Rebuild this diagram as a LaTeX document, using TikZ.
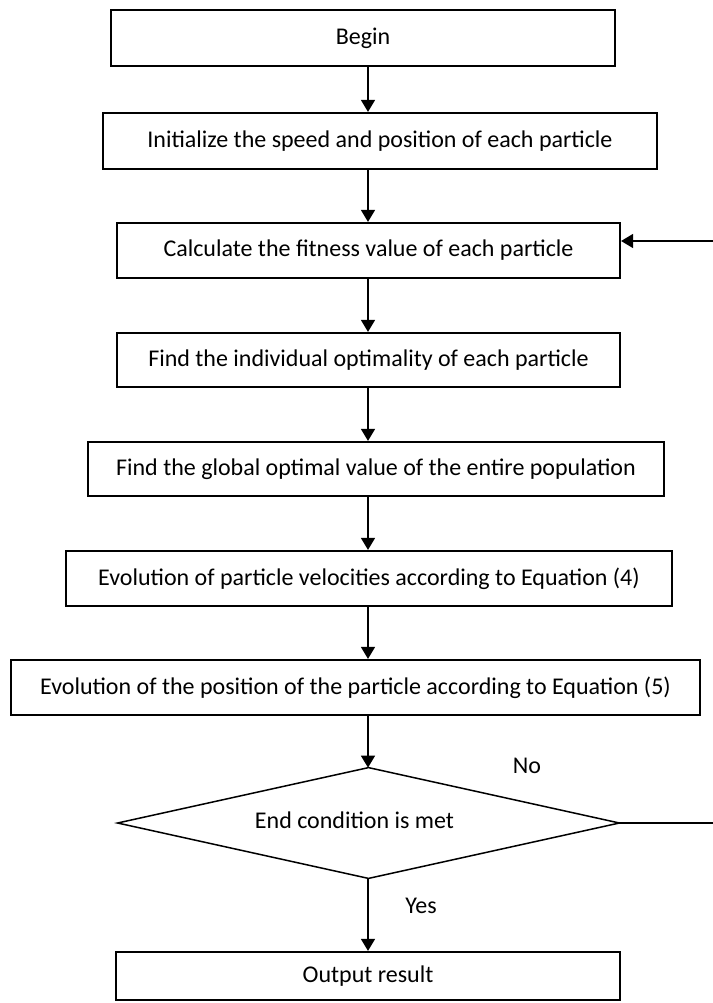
\documentclass[tikz,border=0pt]{standalone}
\usepackage{fontspec}
\setmainfont{Carlito}
\usepackage{tikz}
\usetikzlibrary{positioning,arrows.meta,shapes.geometric,calc}

\begin{document}
\begin{tikzpicture}[
    x=0.5pt, y=-0.5pt,
    box/.style={draw, line width=1.1pt, inner sep=0pt, minimum height=27.5pt,
                align=center, font=\fontsize{12}{14}\selectfont},
    cond/.style={inner sep=0pt, minimum width=250.5pt, minimum height=55pt,
                 font=\fontsize{12}{14}\selectfont},
    lbl/.style={font=\fontsize{12}{14}\selectfont},
    arr/.style={-{Triangle[length=6pt,width=7pt]}, line width=0.75pt},
  ]
  \useasboundingbox (0,0) rectangle (713,1003);
  \clip (0,0) rectangle (713,1003);
  % Main column of steps
  \node[box, minimum width=252pt, minimum height=28pt] (begin) at (363,38) {Begin};
  \node[box, minimum width=277pt, minimum height=28pt] (init) at (380,141)
        {Initialize the speed and position of each particle};
  \node[box, minimum width=251.5pt] (fit) at (368.5,250.5)
        {Calculate the fitness value of each particle};
  \node[box, minimum width=251.5pt, minimum height=27pt] (pbest) at (368.5,360)
        {Find the individual optimality of each particle};
  \node[box, minimum width=288pt, minimum height=27pt] (gbest) at (376,469)
        {Find the global optimal value of the entire population};
  \node[box, minimum width=303pt] (vel) at (369,578.5)
        {Evolution of particle velocities according to Equation (4)};
  \node[box, minimum width=344.5pt] (pos) at (355.5,687.5)
        {Evolution of the position of the particle according to Equation (5)};
  % Decision
  \node[cond] (stop) at (368.5,823) {\raisebox{3pt}{End condition is met\hspace{14pt}}};
  \draw[line width=0.75pt] (stop.north) -- (stop.east) -- (stop.south)
        -- (stop.west) -- cycle;
  \node[box, minimum width=252pt, minimum height=24pt] (out) at (368,976)
        {Output result};
  % Branch labels
  \node[lbl] (no) at (527,766) {No};
  \node[lbl] (yes) at (421,906) {Yes};

  % Spine and loop-back points
  \coordinate (spine) at (368,0);
  \coordinate (loop) at (740,241);

  \draw[arr] (begin.south -| spine) -- (init.north -| spine);
  \draw[arr] (init.south -| spine) -- (fit.north -| spine);
  \draw[arr] (fit.south -| spine) -- (pbest.north -| spine);
  \draw[arr] (pbest.south -| spine) -- (gbest.north -| spine);
  \draw[arr] (gbest.south -| spine) -- (vel.north -| spine);
  \draw[arr] (vel.south -| spine) -- (pos.north -| spine);
  \draw[arr] (pos.south -| spine) -- (stop.north -| spine);
  \draw[arr] (stop.south -| spine) -- (out.north -| spine);
  \draw[arr] (stop.east) -- (stop.east -| loop) -- (loop) -- (loop -| fit.east);
\end{tikzpicture}
\end{document}
